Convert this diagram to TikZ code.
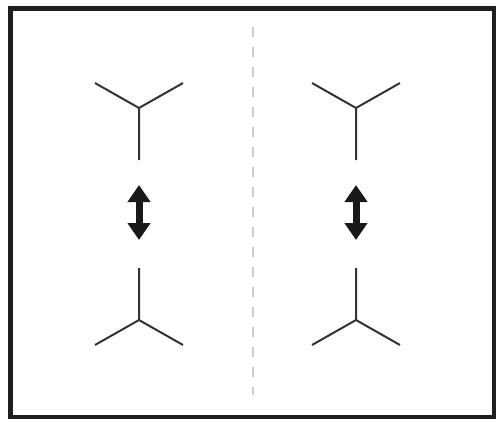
\documentclass[tikz,border=0pt]{standalone}
\usetikzlibrary{arrows.meta}

\begin{document}
\begin{tikzpicture}[x=1pt,y=-1pt,
  ybar/.style={draw=black!80, line width=2pt},
  swaparrow/.style={{Triangle[width=22pt,length=17pt]}-{Triangle[width=22pt,length=17pt]}, line width=7pt, black!90}]
  \useasboundingbox (0,0) rectangle (498,421);
  \draw[line width=4.5pt, black!88] (10.5,8.5) rectangle (494,417);
  \draw[gray!40, line width=1.5pt, dash pattern=on 10pt off 10pt] (253,27) -- (253,395);
  \foreach \cx in {139,356} {
    \coordinate (topj) at (\cx,108);
    \coordinate (topend) at (\cx,160);
    \coordinate (botj) at (\cx,320);
    \coordinate (botend) at (\cx,268);
    \draw[ybar] (\cx-44,83) -- (topj) -- (\cx+44,83) (topj) -- (topend);
    \draw[ybar] (\cx-44,345) -- (botj) -- (\cx+44,345) (botj) -- (botend);
    \draw[swaparrow] (\cx,185) -- (\cx,240);
  }
\end{tikzpicture}
\end{document}
